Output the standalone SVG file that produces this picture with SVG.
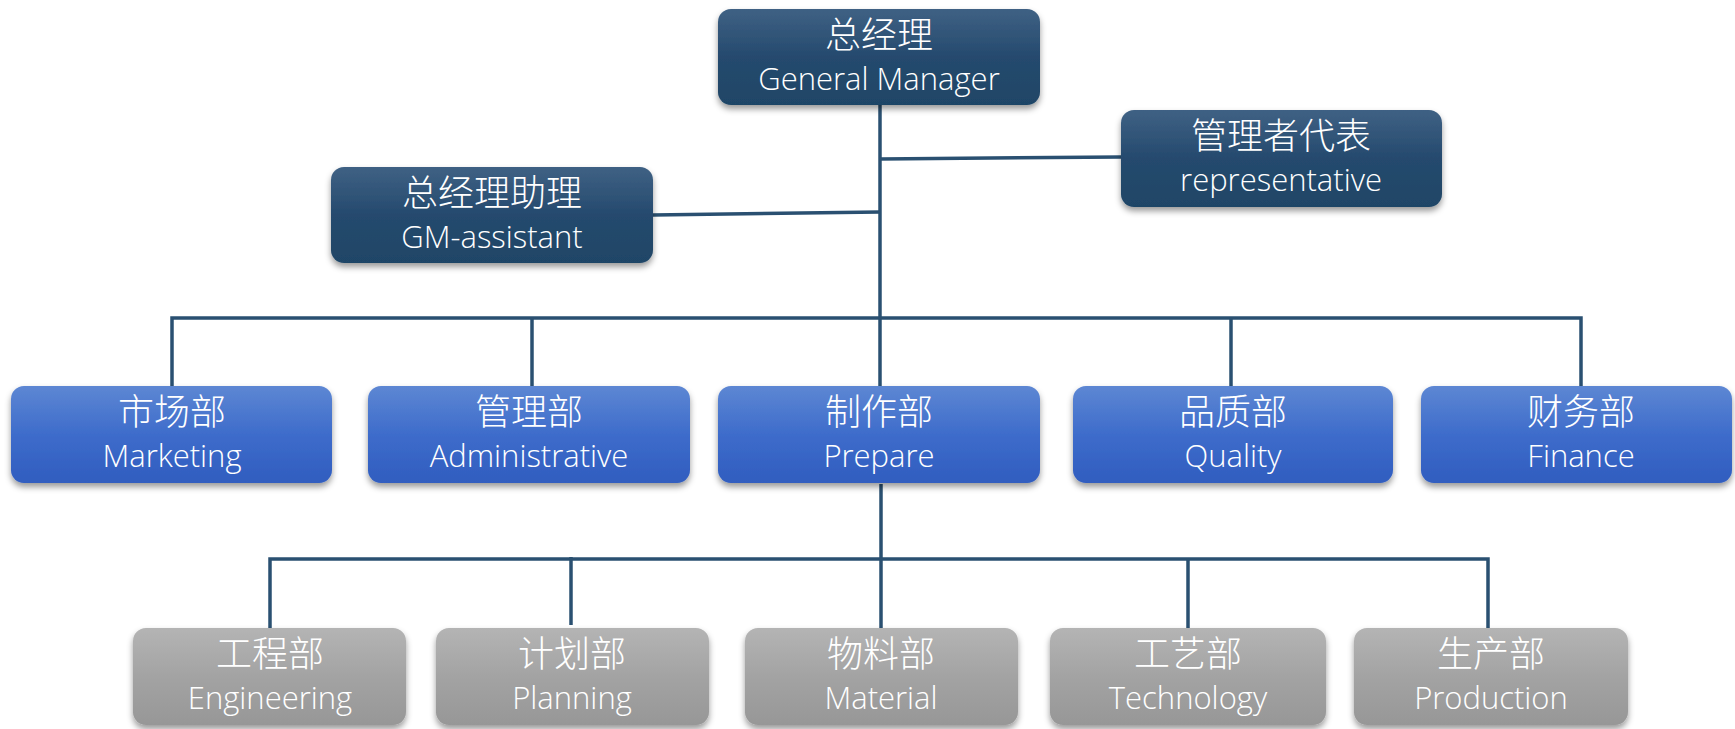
<svg xmlns="http://www.w3.org/2000/svg" width="1735" height="729" viewBox="0 0 1735 729">
<defs>
<linearGradient id="gDark" x1="0" y1="0" x2="0" y2="1">
<stop offset="0" stop-color="#3f6184"/>
<stop offset="0.5" stop-color="#254a6e"/>
<stop offset="1" stop-color="#1f4566"/>
</linearGradient>
<linearGradient id="gBlue" x1="0" y1="0" x2="0" y2="1">
<stop offset="0" stop-color="#5d87d3"/>
<stop offset="0.5" stop-color="#3e6ccb"/>
<stop offset="1" stop-color="#305dbf"/>
</linearGradient>
<linearGradient id="gGray" x1="0" y1="0" x2="0" y2="1">
<stop offset="0" stop-color="#b4b4b4"/>
<stop offset="0.5" stop-color="#a3a3a3"/>
<stop offset="1" stop-color="#979797"/>
</linearGradient>
<filter id="sh" x="-10%" y="-10%" width="120%" height="130%">
<feDropShadow dx="0" dy="4" stdDeviation="3" flood-color="#000" flood-opacity="0.4"/>
</filter>
</defs>
<style>
.dark{fill:url(#gDark);filter:url(#sh)}
.blue{fill:url(#gBlue);filter:url(#sh)}
.gray{fill:url(#gGray);filter:url(#sh)}
.zh{font-family:"Noto Sans CJK SC","Noto Sans",sans-serif;font-weight:300;font-size:36px;fill:#fff;text-anchor:middle}
.en{font-family:"Open Sans","Noto Sans",sans-serif;font-weight:300;font-size:31px;fill:#fff;text-anchor:middle}
.ln{stroke:#2a5071;stroke-width:3.5;fill:none}
</style>
<rect width="1735" height="729" fill="#fff"/>
<g id="connectors">
<path class="ln" d="M880 105 V318"/>
<path class="ln" d="M880 159 L1121 157"/>
<path class="ln" d="M653 215 L880 212"/>
<path class="ln" d="M172 386 V318 H1581 V386"/>
<path class="ln" d="M532 318 V386"/>
<path class="ln" d="M1231 318 V386"/>
<path class="ln" d="M880 318 V386"/>
<path class="ln" d="M881 484 V628"/>
<path class="ln" d="M270 628 V559 H1488 V628"/>
<path class="ln" d="M571 557 V625"/>
<path class="ln" d="M1188 559 V628"/>
</g>
<g id="gm"><rect class="dark" x="718" y="9" width="322" height="96" rx="13"/><text class="zh" x="879" y="48">总经理</text><text class="en" x="879" y="90">General Manager</text></g>
<g id="rep"><rect class="dark" x="1121" y="110" width="321" height="97" rx="13"/><text class="zh" x="1281" y="149">管理者代表</text><text class="en" x="1281" y="191">representative</text></g>
<g id="assistant"><rect class="dark" x="331" y="167" width="322" height="96" rx="13"/><text class="zh" x="492" y="206">总经理助理</text><text class="en" x="492" y="248">GM-assistant</text></g>
<g id="marketing"><rect class="blue" x="11" y="386" width="321" height="97" rx="13"/><text class="zh" x="172" y="425">市场部</text><text class="en" x="172" y="467">Marketing</text></g>
<g id="admin"><rect class="blue" x="368" y="386" width="322" height="97" rx="13"/><text class="zh" x="529" y="425">管理部</text><text class="en" x="529" y="467">Administrative</text></g>
<g id="prepare"><rect class="blue" x="718" y="386" width="322" height="97" rx="13"/><text class="zh" x="879" y="425">制作部</text><text class="en" x="879" y="467">Prepare</text></g>
<g id="quality"><rect class="blue" x="1073" y="386" width="320" height="97" rx="13"/><text class="zh" x="1233" y="425">品质部</text><text class="en" x="1233" y="467">Quality</text></g>
<g id="finance"><rect class="blue" x="1421" y="386" width="311" height="97" rx="13"/><text class="zh" x="1581" y="425">财务部</text><text class="en" x="1581" y="467">Finance</text></g>
<g id="engineering"><rect class="gray" x="133" y="628" width="273" height="97" rx="13"/><text class="zh" x="270" y="667">工程部</text><text class="en" x="270" y="709">Engineering</text></g>
<g id="planning"><rect class="gray" x="436" y="628" width="273" height="97" rx="13"/><text class="zh" x="572" y="667">计划部</text><text class="en" x="572" y="709">Planning</text></g>
<g id="material"><rect class="gray" x="745" y="628" width="273" height="97" rx="13"/><text class="zh" x="881" y="667">物料部</text><text class="en" x="881" y="709">Material</text></g>
<g id="technology"><rect class="gray" x="1050" y="628" width="276" height="97" rx="13"/><text class="zh" x="1188" y="667">工艺部</text><text class="en" x="1188" y="709">Technology</text></g>
<g id="production"><rect class="gray" x="1354" y="628" width="274" height="97" rx="13"/><text class="zh" x="1491" y="667">生产部</text><text class="en" x="1491" y="709">Production</text></g>
</svg>
